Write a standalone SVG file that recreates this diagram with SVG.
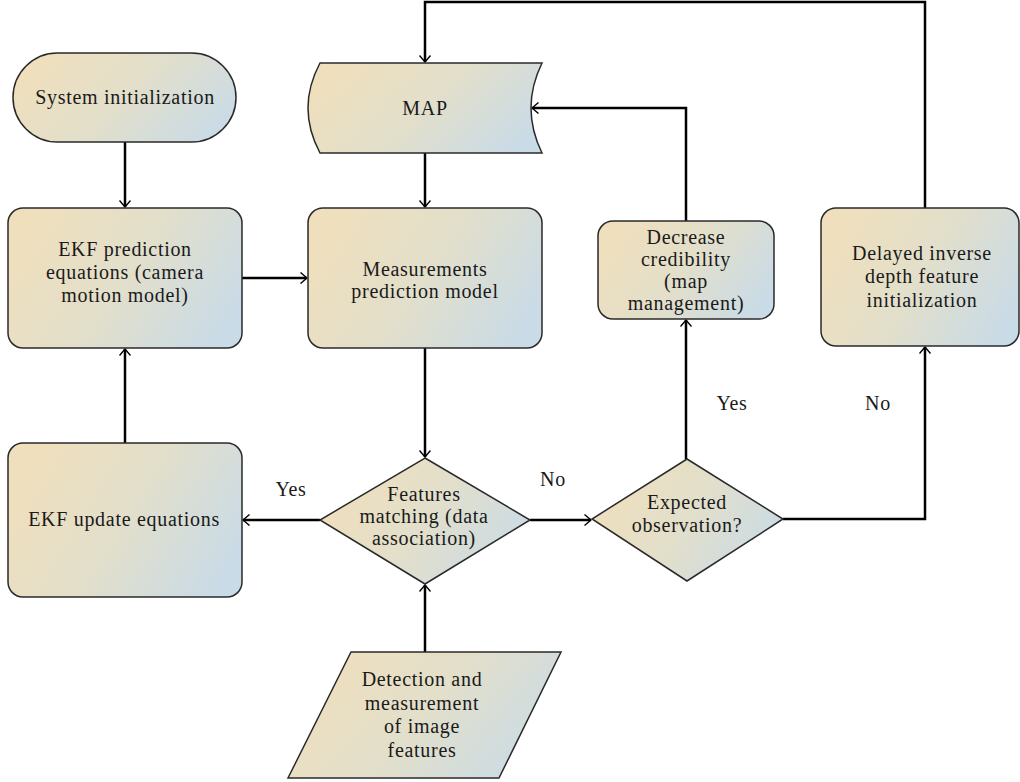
<svg xmlns="http://www.w3.org/2000/svg" width="1020" height="782" viewBox="0 0 1020 782">
<defs>
<linearGradient id="g" x1="0" y1="0.3" x2="1" y2="0.7">
<stop offset="0" stop-color="#f0dfbc"/>
<stop offset="0.5" stop-color="#e2dfcb"/>
<stop offset="1" stop-color="#c9dbe7"/>
</linearGradient>
<marker id="arr" markerUnits="userSpaceOnUse" viewBox="0 0 8 12" markerWidth="8" markerHeight="12" refX="7" refY="6" orient="auto">
<path d="M0.5,0.5 L7,6 L0.5,11.5" fill="none" stroke="#000" stroke-width="1.4"/>
</marker>
</defs>
<style>
.n{fill:url(#g);stroke:#2a2a2a;stroke-width:1.5}
.t{font-family:"Liberation Serif",serif;font-size:20px;letter-spacing:0.7px;fill:#1a1a1a;text-anchor:middle}
.c{fill:none;stroke:#000;stroke-width:2.5;marker-end:url(#arr)}
.p{fill:none;stroke:#000;stroke-width:2.5}
</style>
<rect width="1020" height="782" fill="#fff"/>
<g id="connectors">
<path class="c" d="M125,142 V207"/>
<path class="c" d="M242,278 H307"/>
<path class="c" d="M425,153 V207"/>
<path class="c" d="M425,348 V457"/>
<path class="c" d="M425,652 V585"/>
<path class="c" d="M320,520 H243"/>
<path class="c" d="M125,443 V349"/>
<path class="c" d="M530,520 H591"/>
<path class="c" d="M686,459 V320"/>
<path class="c" d="M686,221 V108 H532"/>
<path class="c" d="M783,519 H925 V347"/>
<path class="c" d="M925,208 V2 H425 V62"/>
</g>
<g id="system-init">
<rect class="n" x="13" y="53" width="223" height="89" rx="44.5"/>
<text class="t" x="125" y="104">System initialization</text>
</g>
<g id="ekf-prediction">
<rect class="n" x="8" y="208" width="234" height="140" rx="15"/>
<text class="t" x="125" y="256">EKF prediction</text>
<text class="t" x="125" y="279">equations (camera</text>
<text class="t" x="125" y="302">motion model)</text>
</g>
<g id="map">
<path class="n" d="M320,63 H542 Q520,108 542,153 H320 Q296,108 320,63 Z"/>
<text class="t" x="425" y="115">MAP</text>
</g>
<g id="measurements">
<rect class="n" x="308" y="208" width="234" height="140" rx="15"/>
<text class="t" x="425" y="276">Measurements</text>
<text class="t" x="425" y="298">prediction model</text>
</g>
<g id="decrease">
<rect class="n" x="598" y="221" width="176" height="98" rx="15"/>
<text class="t" x="686" y="244">Decrease</text>
<text class="t" x="686" y="266">credibility</text>
<text class="t" x="686" y="288">(map</text>
<text class="t" x="686" y="310">management)</text>
</g>
<g id="delayed">
<rect class="n" x="821" y="208" width="198" height="138" rx="15"/>
<text class="t" x="922" y="260">Delayed inverse</text>
<text class="t" x="922" y="283">depth feature</text>
<text class="t" x="922" y="307">initialization</text>
</g>
<g id="ekf-update">
<rect class="n" x="8" y="443" width="234" height="154" rx="15"/>
<text class="t" x="124" y="526">EKF update equations</text>
</g>
<g id="features-matching">
<path class="n" d="M425,458 L530,520 L425,584 L320,520 Z"/>
<text class="t" x="424" y="501">Features</text>
<text class="t" x="424" y="523">matching (data</text>
<text class="t" x="424" y="545">association)</text>
</g>
<g id="expected">
<path class="n" d="M687,459 L783,519 L687,581 L592,519 Z"/>
<text class="t" x="687" y="509">Expected</text>
<text class="t" x="687" y="532">observation?</text>
</g>
<g id="detection">
<path class="n" d="M351,652 H561 L499,778 H288 Z"/>
<text class="t" x="422" y="686">Detection and</text>
<text class="t" x="422" y="710">measurement</text>
<text class="t" x="422" y="733">of image</text>
<text class="t" x="422" y="757">features</text>
</g>
<g id="labels">
<text class="t" x="291" y="496">Yes</text>
<text class="t" x="553" y="486">No</text>
<text class="t" x="732" y="410">Yes</text>
<text class="t" x="878" y="410">No</text>
</g>
</svg>
